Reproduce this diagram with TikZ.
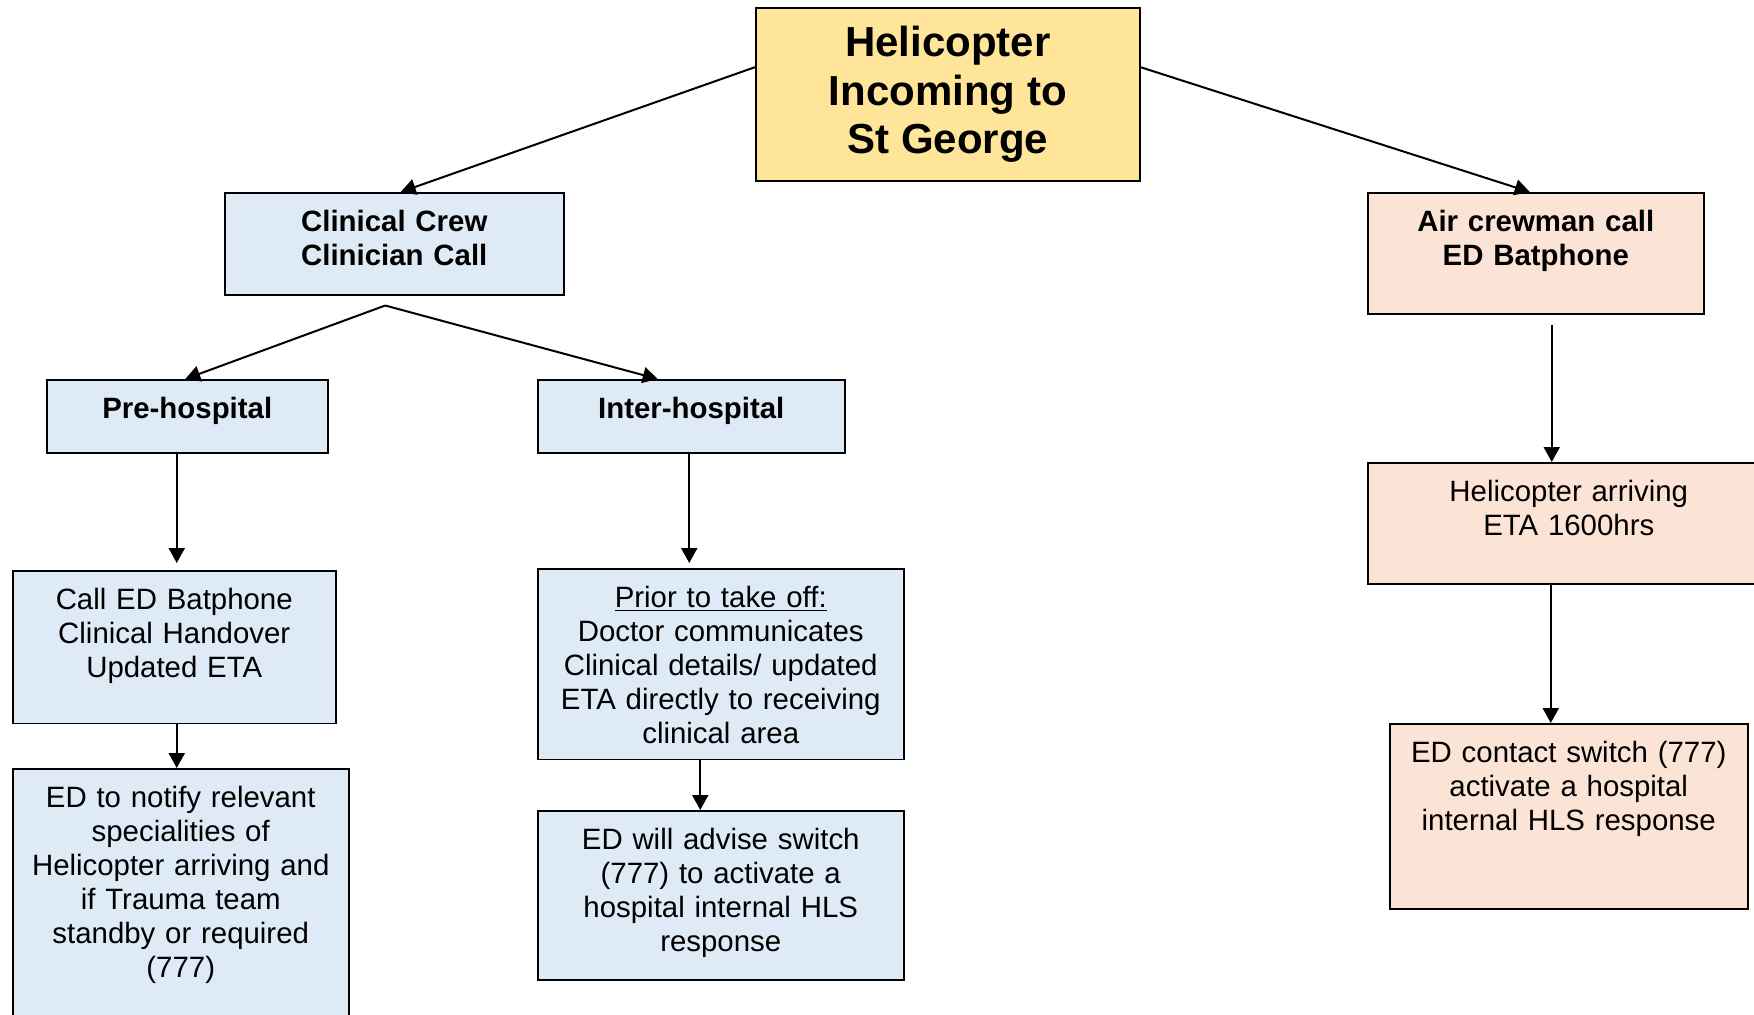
\documentclass[tikz,border=0pt]{standalone}
\usepackage{fontspec}
\setmainfont{Liberation Sans}
\usetikzlibrary{arrows.meta}
\definecolor{topyellow}{HTML}{FFE599}
\definecolor{crewblue}{HTML}{DEEAF6}
\definecolor{airpeach}{HTML}{FBE4D5}
\newcommand\boxfont{\fontsize{14.7pt}{17pt}\selectfont}
\begin{document}
\begin{tikzpicture}[x=0.5pt,y=-0.5pt,
    box/.style={draw,line width=0.75pt,inner sep=0pt,anchor=north west,align=center,font=\boxfont,text height=19.3pt},
    crewbox/.style={box,fill=crewblue},
    airbox/.style={box,fill=airpeach},
    head/.style={font=\boxfont\bfseries},
    link/.style={line width=1pt,-{Triangle[length=7.5pt,width=8pt]}}]
\useasboundingbox (0,0) rectangle (1754,1014);
\clip (0,0) rectangle (1754,1014);
% top
\node(incoming)[draw,line width=0.75pt,fill=topyellow,inner sep=0pt,anchor=north west,minimum width=192pt,minimum height=86.5pt,align=center,font=\fontsize{21pt}{24.3pt}\selectfont\bfseries] at (755,7){Helicopter\\Incoming to\\St George};
% clinical crew side
\node(crew)[crewbox,head,text width=169.5pt,text depth=31.7pt] at (224,192){Clinical Crew\\Clinician Call};
\node(pre)[crewbox,head,text width=140.5pt,text depth=17.2pt] at (46,379){Pre-hospital};
\node(inter)[crewbox,head,text width=153.5pt,text depth=17.2pt] at (537,379){Inter-hospital};
\node(batphone)[crewbox,text width=161.5pt,text depth=57pt] at (12,570){Call ED Batphone\\Clinical Handover\\Updated ETA};
\node(notify)[crewbox,text width=168pt,text depth=130.7pt] at (12,768){ED to notify relevant\\specialities of\\Helicopter arriving and\\if Trauma team\\standby or required\\(777)};
\node(takeoff)[crewbox,text width=183pt,text depth=76pt] at (537,568){\underline{Prior to take off:}\\Doctor communicates\\Clinical details/ updated\\ETA directly to receiving\\clinical area};
\node(advise)[crewbox,text width=183pt,text depth=65.2pt] at (537,810){ED will advise switch\\(777) to activate a\\hospital internal HLS\\response};
% air crew side
\node(aircall)[airbox,head,text width=168pt,text depth=41.2pt] at (1367,192){Air crewman call\\ED Batphone};
\node(arriving)[airbox,text width=201pt,text depth=41.2pt] at (1367,462){Helicopter arriving\\ETA 1600hrs};
\node(contact)[airbox,text width=179pt,text depth=73.2pt] at (1389,723){ED contact switch (777)\\activate a hospital\\internal HLS response};
% arrows
\draw[link] (incoming.172) -- ([xshift=3.25pt]crew.north);
\draw[link] (incoming.8) -- ([xshift=-3pt]aircall.north);
\coordinate (fork) at ([xshift=-4.5pt,yshift=-5pt]crew.south);
\draw[link] (fork) -- ([xshift=-1pt]pre.north);
\draw[link] (fork) -- ([xshift=-16.75pt]inter.north);
\draw[link] ([xshift=-5.25pt]pre.south) -- ([xshift=1.25pt,yshift=3.5pt]batphone.north);
\draw[link] ([xshift=1.25pt]batphone.south) -- ([xshift=-2pt]notify.north);
\draw[link] ([xshift=-1pt]inter.south) -- ([xshift=-15.75pt,yshift=2.5pt]takeoff.north);
\draw[link] ([xshift=-10.25pt]takeoff.south) -- ([xshift=-10.25pt]advise.north);
\draw[link] ([xshift=8pt,yshift=-5pt]aircall.south) -- ([xshift=-8.5pt]arriving.north);
\draw[link] ([xshift=-9pt]arriving.south) -- ([xshift=-9pt]contact.north);
\end{tikzpicture}
\end{document}
